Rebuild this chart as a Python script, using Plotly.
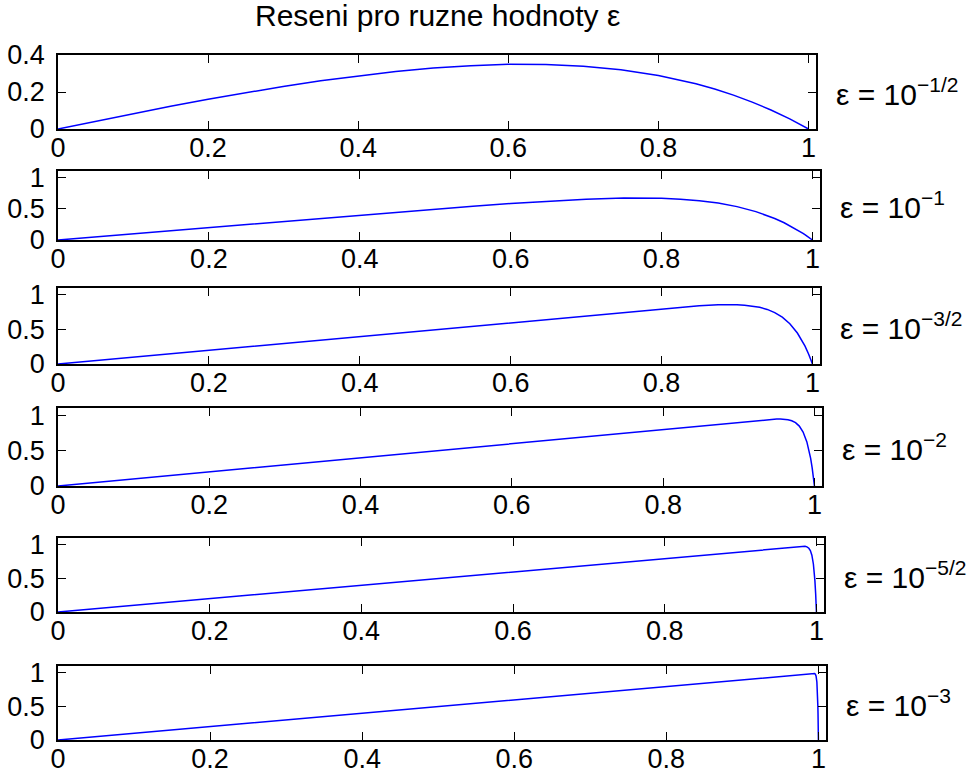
import plotly.graph_objects as go

# Solution curves for decreasing epsilon (x, y samples per panel)
x_p1 = [0, 0.05, 0.1, 0.15, 0.2, 0.25, 0.3, 0.35, 0.4, 0.45, 0.5, 0.55, 0.6, 0.625,
        0.65, 0.7, 0.75, 0.8, 0.825, 0.85, 0.875, 0.9, 0.925, 0.95, 0.975, 1.0]
y_p1 = [0, 0.0424, 0.0835, 0.1232, 0.1610, 0.1967, 0.2301, 0.2605, 0.2876, 0.3108,
        0.3294, 0.3425, 0.3494, 0.3502, 0.3490, 0.3398, 0.3206, 0.2895, 0.2688,
        0.2444, 0.2159, 0.1831, 0.1455, 0.1027, 0.0544, 0]

x_p2 = [0, 0.1, 0.2, 0.3, 0.4, 0.5, 0.55, 0.6, 0.65, 0.7, 0.75, 0.775, 0.8, 0.825,
        0.85, 0.875, 0.9, 0.925, 0.9375, 0.95, 0.9625, 0.975, 0.9875, 0.99, 1.0]
y_p2 = [0, 0.0999, 0.1997, 0.2991, 0.3975, 0.4933, 0.5389, 0.5817, 0.6198, 0.6502,
        0.6679, 0.6696, 0.6647, 0.6512, 0.6269, 0.5885, 0.5321, 0.4526, 0.4022,
        0.3435, 0.2752, 0.1962, 0.1050, 0.0852, 0]

x_p3 = [0, 0.2, 0.4, 0.6, 0.7, 0.75, 0.8, 0.85, 0.875, 0.89, 0.9, 0.91, 0.92, 0.93,
        0.94, 0.95, 0.96, 0.97, 0.98, 0.985, 0.99, 0.995, 1.0]
y_p3 = [0, 0.2, 0.4, 0.6, 0.6999, 0.7496, 0.7982, 0.8413, 0.8558, 0.8591, 0.8577,
        0.8519, 0.8403, 0.8207, 0.7900, 0.7443, 0.6777, 0.5828, 0.4487, 0.3627,
        0.2611, 0.1412, 0]

x_p4 = [0, 0.5, 0.9, 0.93, 0.94, 0.95, 0.955, 0.96, 0.965, 0.97, 0.975, 0.98, 0.985,
        0.99, 0.993, 0.995, 0.997, 0.999, 1.0]
y_p4 = [0, 0.5, 0.9, 0.9291, 0.9375, 0.9433, 0.9439, 0.9417, 0.9348, 0.9202, 0.8929,
        0.8447, 0.7619, 0.6221, 0.4964, 0.3885, 0.2562, 0.0942, 0]

x_p5 = [0, 0.5, 0.97, 0.975, 0.98, 0.9825, 0.985, 0.9875, 0.99, 0.992, 0.994, 0.996,
        0.997, 0.998, 0.999, 1.0]
y_p5 = [0, 0.5, 0.9699, 0.9746, 0.9782, 0.9786, 0.9763, 0.9683, 0.9477, 0.9123,
        0.8440, 0.7137, 0.6098, 0.4667, 0.2701, 0]

x_p6 = [0, 0.5, 0.99, 0.993, 0.995, 0.996, 0.997, 0.998, 0.9985, 0.999, 0.9993,
        0.9995, 0.9997, 1.0]
y_p6 = [0, 0.5, 0.99, 0.9921, 0.9883, 0.9777, 0.9472, 0.8627, 0.7754, 0.6311,
        0.5027, 0.3930, 0.2589, 0]

eps_labels = ["ε = 10<sup>−1/2</sup>", "ε = 10<sup>−1</sup>", "ε = 10<sup>−3/2</sup>",
              "ε = 10<sup>−2</sup>", "ε = 10<sup>−5/2</sup>", "ε = 10<sup>−3</sup>"]
x_ticks = [0, 0.2, 0.4, 0.6, 0.8, 1]
x_ticklabels = ["0", "0.2", "0.4", "0.6", "0.8", "1"]
y_ticks_first = [0, 0.2, 0.4]
y_ticklabels_first = ["0", "0.2", "0.4"]
y_ticks_rest = [0, 0.5, 1]
y_ticklabels_rest = ["0", "0.5", "1"]
title_text = "Reseni pro ruzne hodnoty ε"

series = [(x_p1, y_p1), (x_p2, y_p2), (x_p3, y_p3),
          (x_p4, y_p4), (x_p5, y_p5), (x_p6, y_p6)]

W, H = 970, 778
FONT = "Liberation Sans, Arial, Helvetica, sans-serif"
FS_TICK = 27
FS_TEXT = 30

# axes boxes in pixels: (left, right, top, bottom)
boxes = [(58, 816, 55, 129), (58, 820, 171, 240), (58, 820, 288, 364),
         (58, 822, 408, 486), (58, 824, 538, 612), (58, 826, 666, 740)]

fig = go.Figure()
annotations = []
layout = dict(template="none", width=W, height=H,
              margin=dict(l=0, r=0, t=0, b=0, pad=0), autosize=False,
              paper_bgcolor="white", plot_bgcolor="white", showlegend=False,
              font=dict(family=FONT, size=FS_TICK, color="black"))

for i, ((xs, ys), (l, r, t, b)) in enumerate(zip(series, boxes)):
    n = "" if i == 0 else str(i + 1)
    fig.add_trace(go.Scatter(x=xs, y=ys, mode="lines",
                             line=dict(color="#0000ff", width=1.5),
                             xaxis="x" + n, yaxis="y" + n))
    if i == 0:
        yr, yt, ytl = [0, 0.4], y_ticks_first, y_ticklabels_first
    else:
        yr, yt, ytl = [0, 1.1], y_ticks_rest, y_ticklabels_rest
    common = dict(showgrid=False, zeroline=False, showline=True, linecolor="black",
                  linewidth=1.5, mirror="ticks", ticks="inside", ticklen=8,
                  tickwidth=1, tickcolor="black", automargin=False,
                  tickfont=dict(family=FONT, size=FS_TICK, color="black"))
    layout["xaxis" + n] = dict(common, domain=[l / W, r / W], range=[0, 1.01],
                               tickvals=x_ticks, ticktext=x_ticklabels,
                               anchor="y" + n, ticklabelstandoff=-6)
    layout["yaxis" + n] = dict(common, domain=[1 - b / H, 1 - t / H], range=yr,
                               tickvals=yt, ticktext=ytl, anchor="x" + n,
                               ticklabelstandoff=6)
    annotations.append(dict(text=eps_labels[i], xref="paper", yref="paper",
                            x=(r + 18) / W, y=1 - (t + b) / 2 / H,
                            xanchor="left", yanchor="middle", showarrow=False,
                            font=dict(family=FONT, size=FS_TEXT, color="black")))

annotations.append(dict(text=title_text, xref="paper", yref="paper",
                        x=(58 + 816) / 2 / W, y=1 - 16 / H, xanchor="center",
                        yanchor="middle", showarrow=False,
                        font=dict(family=FONT, size=FS_TEXT, color="black")))
layout["annotations"] = annotations
fig.update_layout(**layout)
fig.write_html("out.html", post_script="document.body.style.margin='0px';")
